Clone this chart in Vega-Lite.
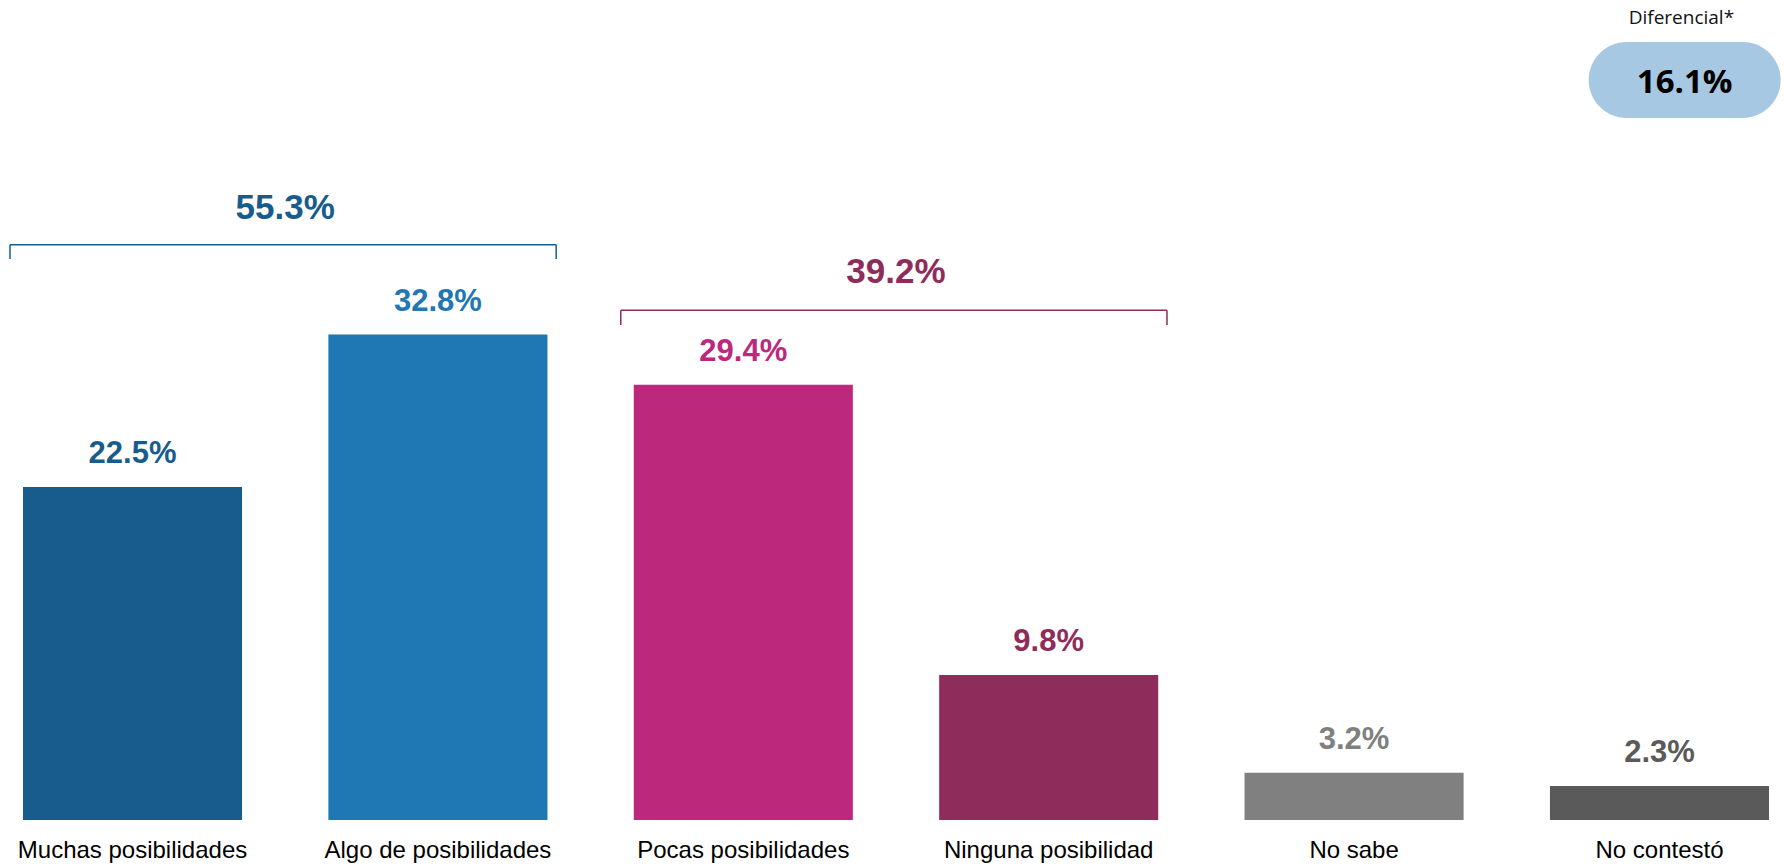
{
  "$schema": "https://vega.github.io/schema/vega-lite/v6.json",
  "width": 1746,
  "height": 820,
  "autosize": {"type": "none"},
  "padding": {"left": 23, "right": 18, "top": 0, "bottom": 45},
  "config": {"view": {"stroke": null}, "font": "Liberation Sans"},
  "datasets": {
    "bars": [
      {"cat": "Muchas posibilidades", "value": 22.5, "label": "22.5%"},
      {"cat": "Algo de posibilidades", "value": 32.8, "label": "32.8%"},
      {"cat": "Pocas posibilidades", "value": 29.4, "label": "29.4%"},
      {"cat": "Ninguna posibilidad", "value": 9.8, "label": "9.8%"},
      {"cat": "No sabe", "value": 3.2, "label": "3.2%"},
      {"cat": "No contestó", "value": 2.3, "label": "2.3%"}
    ],
    "brackets": [
      {"start": "Muchas posibilidades", "end": "Algo de posibilidades", "total": "55.3%", "tone": "Muchas posibilidades", "y": 38.87, "yTick": 37.9, "yLabel": 40.59},
      {"start": "Pocas posibilidades", "end": "Ninguna posibilidad", "total": "39.2%", "tone": "Ninguna posibilidad", "y": 34.44, "yTick": 33.45, "yLabel": 36.31}
    ],
    "diff": [
      {"cat": "No contestó", "y": 50, "value": "16.1%", "title": "Diferencial*"}
    ]
  },
  "layer": [
    {
      "data": {"name": "bars"},
      "mark": {"type": "bar"},
      "encoding": {
        "x": {
          "field": "cat", "type": "nominal", "sort": null,
          "scale": {
            "domain": ["Muchas posibilidades", "Algo de posibilidades", "Pocas posibilidades", "Ninguna posibilidad", "No sabe", "No contestó"],
            "paddingInner": 0.2827, "paddingOuter": 0
          },
          "axis": {"title": null, "labelAngle": 0, "domain": false, "ticks": false, "labelPadding": 18, "labelFont": "Liberation Sans", "labelFontSize": 24, "labelColor": "#000000", "labelLimit": 400}
        },
        "y": {"field": "value", "type": "quantitative", "scale": {"domain": [0, 55.4], "nice": false}, "axis": null},
        "color": {
          "field": "cat", "type": "nominal",
          "scale": {
            "domain": ["Muchas posibilidades", "Algo de posibilidades", "Pocas posibilidades", "Ninguna posibilidad", "No sabe", "No contestó"],
            "range": ["#185c8e", "#1f77b4", "#bc297c", "#8e2c5b", "#808080", "#5a5a5a"]
          },
          "legend": null
        }
      }
    },
    {
      "data": {"name": "bars"},
      "mark": {"type": "text", "fontSize": 31, "fontWeight": "bold", "baseline": "alphabetic", "dy": -24, "font": "Liberation Sans"},
      "encoding": {
        "x": {"field": "cat", "type": "nominal", "sort": null},
        "y": {"field": "value", "type": "quantitative"},
        "text": {"field": "label"},
        "color": {"field": "cat", "type": "nominal", "legend": null}
      }
    },
    {
      "data": {"name": "brackets"},
      "mark": {"type": "rule", "strokeWidth": 1.5, "xOffset": -13, "x2Offset": 8.75},
      "encoding": {
        "x": {"field": "start", "type": "nominal", "bandPosition": 0, "sort": null},
        "x2": {"field": "end", "bandPosition": 1},
        "y": {"field": "y", "type": "quantitative"},
        "color": {"field": "tone", "type": "nominal", "legend": null}
      }
    },
    {
      "data": {"name": "brackets"},
      "mark": {"type": "rule", "strokeWidth": 1.5, "xOffset": -13},
      "encoding": {
        "x": {"field": "start", "type": "nominal", "bandPosition": 0, "sort": null},
        "y": {"field": "y", "type": "quantitative"},
        "y2": {"field": "yTick"},
        "color": {"field": "tone", "type": "nominal", "legend": null}
      }
    },
    {
      "data": {"name": "brackets"},
      "mark": {"type": "rule", "strokeWidth": 1.5, "xOffset": 8.75},
      "encoding": {
        "x": {"field": "end", "type": "nominal", "bandPosition": 1, "sort": null},
        "y": {"field": "y", "type": "quantitative"},
        "y2": {"field": "yTick"},
        "color": {"field": "tone", "type": "nominal", "legend": null}
      }
    },
    {
      "data": {"name": "brackets"},
      "mark": {"type": "text", "fontSize": 35, "fontWeight": "bold", "baseline": "alphabetic", "font": "Liberation Sans"},
      "encoding": {
        "x": {"field": "start", "type": "nominal", "bandPosition": 1.197, "sort": null},
        "y": {"field": "yLabel", "type": "quantitative"},
        "text": {"field": "total"},
        "color": {"field": "tone", "type": "nominal", "legend": null}
      }
    },
    {
      "data": {"name": "diff"},
      "mark": {
        "type": "point",
        "shape": "M-0.6042,-0.3958 L0.6042,-0.3958 A0.3958,0.3958 0 0 1 0.6042,0.3958 L-0.6042,0.3958 A0.3958,0.3958 0 0 1 -0.6042,-0.3958 Z",
        "size": 36864,
        "filled": true,
        "fill": "#a6c8e2",
        "opacity": 1,
        "strokeWidth": 0
      },
      "encoding": {
        "x": {"field": "cat", "type": "nominal", "bandPosition": 0.615, "sort": null},
        "y": {"field": "y", "type": "quantitative"}
      }
    },
    {
      "data": {"name": "diff"},
      "mark": {"type": "text", "fontSize": 33, "fontWeight": "bold", "baseline": "alphabetic", "dy": 13, "font": "Open Sans", "color": "#000000"},
      "encoding": {
        "x": {"field": "cat", "type": "nominal", "bandPosition": 0.615, "sort": null},
        "y": {"field": "y", "type": "quantitative"},
        "text": {"field": "value"}
      }
    },
    {
      "data": {"name": "diff"},
      "mark": {"type": "text", "fontSize": 19, "baseline": "alphabetic", "dy": -56, "font": "Open Sans", "color": "#111111"},
      "encoding": {
        "x": {"field": "cat", "type": "nominal", "bandPosition": 0.6, "sort": null},
        "y": {"field": "y", "type": "quantitative"},
        "text": {"field": "title"}
      }
    }
  ]
}
